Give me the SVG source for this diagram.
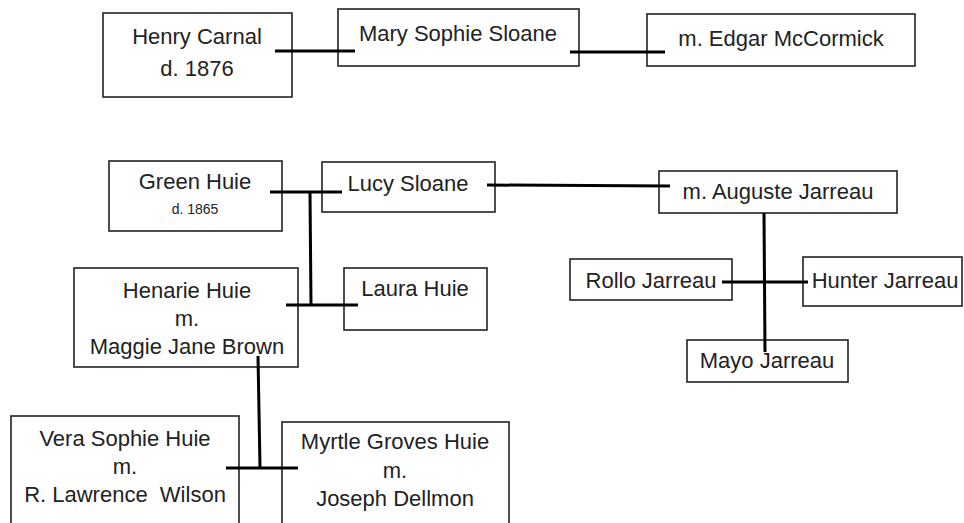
<svg xmlns="http://www.w3.org/2000/svg" width="964" height="523" viewBox="0 0 964 523">
<style>
.box{fill:#fff;stroke:#222;stroke-width:1.6}
.t{font-family:"Liberation Sans",Arial,sans-serif;font-size:22px;fill:#222;text-anchor:middle}
.s{font-size:14px}
.ln{stroke:#000;stroke-width:3;fill:none}
</style>
<rect width="964" height="523" fill="#fff"/>
<g id="henry-carnal"><rect class="box" x="103" y="13" width="189" height="84"/><text class="t" x="197" y="44">Henry Carnal</text><text class="t" x="197" y="76">d. 1876</text></g>
<g id="mary-sophie-sloane"><rect class="box" x="338" y="9" width="241" height="57"/><text class="t" x="458" y="41">Mary Sophie Sloane</text></g>
<g id="edgar-mccormick"><rect class="box" x="647" y="14" width="268" height="52"/><text class="t" x="781" y="46">m. Edgar McCormick</text></g>
<g id="green-huie"><rect class="box" x="109" y="161" width="173" height="70"/><text class="t" x="195" y="189">Green Huie</text><text class="t s" x="195" y="214">d. 1865</text></g>
<g id="lucy-sloane"><rect class="box" x="322" y="162" width="173" height="50"/><text class="t" x="408" y="191">Lucy Sloane</text></g>
<g id="auguste-jarreau"><rect class="box" x="659" y="171" width="238" height="42"/><text class="t" x="778" y="199">m. Auguste Jarreau</text></g>
<g id="henarie-huie"><rect class="box" x="74" y="268" width="224" height="99"/><text class="t" x="187" y="298">Henarie Huie</text><text class="t" x="187" y="326">m.</text><text class="t" x="187" y="354">Maggie Jane Brown</text></g>
<g id="laura-huie"><rect class="box" x="344" y="268" width="143" height="62"/><text class="t" x="415" y="296">Laura Huie</text></g>
<g id="rollo-jarreau"><rect class="box" x="570" y="259" width="162" height="41"/><text class="t" x="651" y="288">Rollo Jarreau</text></g>
<g id="hunter-jarreau"><rect class="box" x="803" y="257" width="159" height="49"/><text class="t" x="885" y="288">Hunter Jarreau</text></g>
<g id="mayo-jarreau"><rect class="box" x="687" y="340" width="161" height="42"/><text class="t" x="767" y="368">Mayo Jarreau</text></g>
<g id="vera-sophie-huie"><rect class="box" x="11" y="416" width="228" height="120"/><text class="t" x="125" y="446">Vera Sophie Huie</text><text class="t" x="125" y="474">m.</text><text class="t" x="125" y="502" style="white-space:pre">R. Lawrence  Wilson</text></g>
<g id="myrtle-groves-huie"><rect class="box" x="282" y="422" width="227" height="120"/><text class="t" x="395" y="449">Myrtle Groves Huie</text><text class="t" x="395" y="478">m.</text><text class="t" x="395" y="506">Joseph Dellmon</text></g>
<g id="connectors">
<line class="ln" x1="275" y1="51" x2="355" y2="51"/>
<line class="ln" x1="570" y1="52" x2="665" y2="52"/>
<line class="ln" x1="270" y1="192" x2="342" y2="192"/>
<line class="ln" x1="310" y1="192" x2="311" y2="305"/>
<line class="ln" x1="286" y1="305" x2="358" y2="305"/>
<line class="ln" x1="487" y1="185" x2="670" y2="186"/>
<line class="ln" x1="764" y1="213" x2="765" y2="352"/>
<line class="ln" x1="722" y1="282" x2="808" y2="282"/>
<line class="ln" x1="258" y1="356" x2="260" y2="468"/>
<line class="ln" x1="226" y1="468" x2="298" y2="468"/>
</g>
</svg>
